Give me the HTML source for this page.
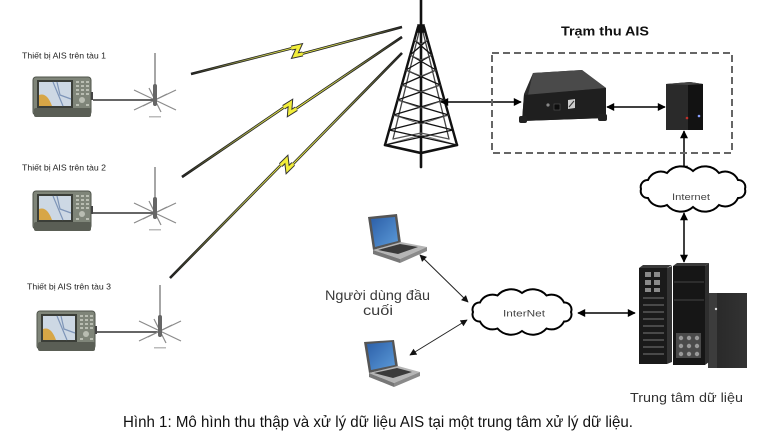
<!DOCTYPE html>
<html><head><meta charset="utf-8">
<style>html,body{margin:0;padding:0;background:#fff;}svg{display:block}</style>
</head><body>
<svg width="759" height="433" viewBox="0 0 759 433" xmlns="http://www.w3.org/2000/svg" font-family="Liberation Sans, 'DejaVu Sans', sans-serif">
<defs>
<marker id="ah" viewBox="0 0 10 10" refX="9" refY="5" markerWidth="9" markerHeight="8" markerUnits="userSpaceOnUse" orient="auto-start-reverse"><path d="M0,0 L10,5 L0,10 z" fill="#000"/></marker>
<marker id="ah2" viewBox="0 0 10 10" refX="9" refY="5" markerWidth="9" markerHeight="7" markerUnits="userSpaceOnUse" orient="auto-start-reverse"><path d="M0,0 L10,5 L0,10 z" fill="#111"/></marker>
<linearGradient id="g1" gradientUnits="userSpaceOnUse" x1="191" y1="74" x2="402" y2="27"><stop offset="0" stop-color="#222"/><stop offset="0.35" stop-color="#b8bc50"/><stop offset="0.5" stop-color="#e8e840"/><stop offset="0.7" stop-color="#b8bc50"/><stop offset="1" stop-color="#222"/></linearGradient>
<linearGradient id="g2" gradientUnits="userSpaceOnUse" x1="182" y1="177" x2="402" y2="37"><stop offset="0" stop-color="#222"/><stop offset="0.35" stop-color="#b8bc50"/><stop offset="0.5" stop-color="#e8e840"/><stop offset="0.7" stop-color="#b8bc50"/><stop offset="1" stop-color="#222"/></linearGradient>
<linearGradient id="g3" gradientUnits="userSpaceOnUse" x1="170" y1="278" x2="402" y2="53"><stop offset="0" stop-color="#222"/><stop offset="0.35" stop-color="#b8bc50"/><stop offset="0.5" stop-color="#e8e840"/><stop offset="0.7" stop-color="#b8bc50"/><stop offset="1" stop-color="#222"/></linearGradient>
<linearGradient id="rk3" x1="0" y1="0" x2="1" y2="0"><stop offset="0" stop-color="#3a3a3a"/><stop offset="0.25" stop-color="#2a2a2a"/><stop offset="1" stop-color="#333"/></linearGradient>
<linearGradient id="scr" x1="0" y1="0" x2="1" y2="1"><stop offset="0" stop-color="#2c5fa8"/><stop offset="1" stop-color="#5b9ad8"/></linearGradient>
<g id="dev">
 <rect x="0" y="2" width="58" height="38" rx="3" fill="#7f8579" stroke="#4f544b"/>
 <rect x="1" y="33" width="57" height="9" rx="2" fill="#5a5e55"/>
 <rect x="4" y="5" width="36" height="28" fill="#3b3e38"/>
 <rect x="6" y="7" width="32" height="24" fill="#cdd8e4"/>
 <path d="M6,20 Q14,17 19,31 L6,31 Z" fill="#d7a646"/>
 <path d="M20,7 L30,31 M24,7 L27,20 L38,24" stroke="#7e95b8" stroke-width="1.2" fill="none"/>
 <g fill="#b9bdb2">
  <rect x="43" y="6" width="3" height="2"/><rect x="48" y="6" width="3" height="2"/><rect x="53" y="6" width="3" height="2"/>
  <rect x="43" y="10" width="3" height="2"/><rect x="48" y="10" width="3" height="2"/><rect x="53" y="10" width="3" height="2"/>
  <rect x="43" y="14" width="3" height="2"/><rect x="48" y="14" width="3" height="2"/><rect x="53" y="14" width="3" height="2"/>
  <rect x="43" y="18" width="3" height="2"/><rect x="48" y="18" width="3" height="2"/><rect x="53" y="18" width="3" height="2"/>
  <circle cx="49" cy="25" r="3"/>
  <rect x="43" y="29" width="3" height="2"/><rect x="53" y="29" width="3" height="2"/>
 </g>
 <rect x="58" y="17" width="2" height="8" fill="#444"/>
</g>
<g id="ant" stroke="#8a8a8a" stroke-width="1.2" fill="none">
 <line x1="-21" y1="-10" x2="21" y2="10"/>
 <line x1="-21" y1="10" x2="21" y2="-10"/>
 <line x1="-6" y1="-12" x2="6" y2="12"/>
 <line x1="-12" y1="6" x2="12" y2="-6"/>
</g>
</defs>

<!-- ship devices -->
<text x="22" y="58.5" font-size="8.5" fill="#222" textLength="84" lengthAdjust="spacingAndGlyphs">Thiết bị AIS trên tàu 1</text>
<text x="22" y="170.5" font-size="8.5" fill="#222" textLength="84" lengthAdjust="spacingAndGlyphs">Thiết bị AIS trên tàu 2</text>
<text x="27" y="289.5" font-size="8.5" fill="#222" textLength="84" lengthAdjust="spacingAndGlyphs">Thiết bị AIS trên tàu 3</text>

<use href="#dev" x="33" y="75"/>
<use href="#dev" x="33" y="189"/>
<use href="#dev" x="37" y="309"/>

<g stroke="#333" stroke-width="1.4">
 <line x1="93" y1="100" x2="155" y2="100"/>
 <line x1="93" y1="213" x2="155" y2="213"/>
 <line x1="97" y1="332" x2="160" y2="332"/>
</g>

<!-- antennas -->
<use href="#ant" x="155" y="100"/>
<use href="#ant" x="155" y="213"/>
<use href="#ant" x="160" y="331"/>
<g stroke="#777" stroke-width="1.3">
 <line x1="155" y1="53" x2="155" y2="106"/>
 <line x1="155" y1="167" x2="155" y2="219"/>
 <line x1="160" y1="285" x2="160" y2="337"/>
</g>
<g fill="#666">
 <rect x="153" y="84" width="4" height="22" rx="2"/>
 <rect x="153" y="197" width="4" height="22" rx="2"/>
 <rect x="158" y="315" width="4" height="22" rx="2"/>
</g>
<g fill="#bbb">
 <rect x="149" y="116" width="12" height="1.5"/>
 <rect x="149" y="229" width="12" height="1.5"/>
 <rect x="154" y="347" width="12" height="1.5"/>
</g>

<!-- lightning lines -->
<g fill="none" stroke-linejoin="miter" stroke-miterlimit="4">
 <polyline points="191,74 299.1,46.4 294.9,55.6 402,27" stroke="#1e1e1e" stroke-width="2.6"/>
 <polyline points="191,74 299.1,46.4 294.9,55.6 402,27" stroke="url(#g1)" stroke-width="1.1"/>
 <polyline points="291.3,48.1 299.1,46.4 294.9,55.6 302.7,53.9" stroke="#333" stroke-width="5"/>
 <polyline points="291.3,48.1 299.1,46.4 294.9,55.6 302.7,53.9" stroke="#f2ee3a" stroke-width="3"/>

 <polyline points="182,177 290.4,103 289.6,113 402,37" stroke="#1e1e1e" stroke-width="2.6"/>
 <polyline points="182,177 290.4,103 289.6,113 402,37" stroke="url(#g2)" stroke-width="1.1"/>
 <polyline points="283.6,107.3 290.4,103 289.6,113 296.4,108.7" stroke="#333" stroke-width="5"/>
 <polyline points="283.6,107.3 290.4,103 289.6,113 296.4,108.7" stroke="#f2ee3a" stroke-width="3"/>

 <polyline points="170,278 286.4,159.5 287.6,169.5 402,53" stroke="#1e1e1e" stroke-width="2.6"/>
 <polyline points="170,278 286.4,159.5 287.6,169.5 402,53" stroke="url(#g3)" stroke-width="1.1"/>
 <polyline points="280.7,165.1 286.4,159.5 287.6,169.5 293.3,163.9" stroke="#333" stroke-width="5"/>
 <polyline points="280.7,165.1 286.4,159.5 287.6,169.5 293.3,163.9" stroke="#f2ee3a" stroke-width="3"/>
</g>

<!-- tower -->
<g stroke="#111" fill="none" stroke-linecap="round">
 <line x1="421" y1="0" x2="421" y2="167" stroke-width="2.6"/>
 <path d="M418,27 L385,145 M424,27 L457,145" stroke-width="2.4"/>
 <path d="M419,32 L393,139 M423,32 L449,139" stroke-width="1.3" stroke="#444"/>
 <path d="M418,25 L424,25 L424,32 L418,32 Z" stroke-width="1.5" fill="#111"/>
 <path d="M385,145 L421,153 L457,145" stroke-width="2.6"/>
 <path d="M393,139 L421,133 L449,139" stroke-width="1.3" stroke="#555"/>
 <path d="M385,145 L421,135 M457,145 L421,135" stroke-width="1" stroke="#777"/>
 <g stroke-width="1.3">
  <path d="M414.4,40 L431.8,55 M427.6,40 L410.2,55"/>
  <path d="M410.2,55 L436,70 M431.8,55 L406,70"/>
  <path d="M406,70 L440.2,85 M436,70 L401.8,85"/>
  <path d="M401.8,85 L444.4,100 M440.2,85 L397.6,100"/>
  <path d="M397.6,100 L448.6,115 M444.4,100 L393.4,115"/>
  <path d="M393.4,115 L452.8,130 M448.6,115 L389.2,130"/>
  <path d="M389.2,130 L457,145 M452.8,130 L385,145"/>
 </g>
 <g stroke-width="0.9" stroke="#555">
  <path d="M414.4,40 L421,44 L427.6,40"/>
  <path d="M410.2,55 L421,60 L431.8,55"/>
  <path d="M406,70 L421,76 L436,70"/>
  <path d="M401.8,85 L421,92 L440.2,85"/>
  <path d="M397.6,100 L421,108 L444.4,100"/>
  <path d="M393.4,115 L421,124 L448.6,115"/>
 </g>
</g>

<!-- arrows top -->
<g stroke="#000" stroke-width="1.5" fill="none">
 <line x1="441" y1="102" x2="521" y2="102" marker-start="url(#ah)" marker-end="url(#ah)"/>
 <line x1="607" y1="107" x2="665" y2="107" marker-start="url(#ah)" marker-end="url(#ah)"/>
 <line x1="684" y1="131" x2="684" y2="173" marker-start="url(#ah)" marker-end="url(#ah)"/>
 <line x1="684" y1="213" x2="684" y2="262" marker-start="url(#ah)" marker-end="url(#ah)"/>
 <line x1="578" y1="313" x2="635" y2="313" marker-start="url(#ah)" marker-end="url(#ah)"/>
</g>
<g stroke="#222" stroke-width="1" fill="none">
 <line x1="420" y1="255" x2="468" y2="302" marker-start="url(#ah2)" marker-end="url(#ah2)"/>
 <line x1="410" y1="355" x2="467" y2="320" marker-start="url(#ah2)" marker-end="url(#ah2)"/>
</g>

<!-- Trạm thu AIS box -->
<text x="561" y="35.5" font-size="12.5" font-weight="bold" fill="#111" textLength="88" lengthAdjust="spacingAndGlyphs">Trạm thu AIS</text>
<rect x="492" y="53" width="240" height="100" fill="none" stroke="#666" stroke-width="2" stroke-dasharray="7,4"/>

<!-- receiver -->
<g>
 <path d="M524,94 L533,73 L582,70 L606,88 L606,118 L522,121 Z" fill="#2c2c2c"/>
 <path d="M533,73 L582,70 L606,88 L528,95 Z" fill="#4a4a4a"/>
 <path d="M524,95 L606,88 L606,118 L522,121 Z" fill="#1f1f1f"/>
 <rect x="519" y="116" width="8" height="7" rx="2" fill="#222"/>
 <rect x="598" y="114" width="9" height="7" rx="2" fill="#222"/>
 <circle cx="548" cy="105" r="1.6" fill="#888"/>
 <rect x="554" y="104" width="6" height="6" fill="#0d0d0d" stroke="#555" stroke-width="0.6"/>
 <path d="M568,100 L575,99 L575,108 L568,109 Z" fill="#ccc"/>
 <path d="M569,107 L574,101" stroke="#333" stroke-width="1"/>
</g>

<!-- PC -->
<g>
 <path d="M666,84 L690,82 L703,84 L703,130 L666,130 Z" fill="#1c1c1c"/>
 <rect x="666" y="84" width="22" height="46" fill="#2a2a2a"/>
 <rect x="688" y="84" width="15" height="46" fill="#121212"/>
 <path d="M666,84 L690,82 L703,84 L688,85 Z" fill="#444"/>
 <circle cx="687" cy="118" r="1.3" fill="#c0302a"/>
 <circle cx="699" cy="116" r="1.3" fill="#8aa0ff"/>
</g>

<!-- Internet cloud -->
<path d="M745,189 A7,7 0 0 1 738,198 A14,14 0 0 1 719,205 A18,18 0 0 1 693,207 A18,18 0 0 1 667,205 A14,14 0 0 1 648,198 A7,7 0 0 1 641,189 A7,7 0 0 1 648,180 A14,14 0 0 1 667,173 A18,18 0 0 1 693,171 A18,18 0 0 1 719,173 A14,14 0 0 1 738,180 A7,7 0 0 1 745,189 Z" fill="#fff" stroke="#000" stroke-width="2"/>
<text x="672" y="200" font-size="9.5" fill="#444" textLength="38" lengthAdjust="spacingAndGlyphs">Internet</text>

<!-- InterNet cloud -->
<path d="M571,312 A7,7 0 0 1 564,321.5 A14,14 0 0 1 546.5,328.5 A18,18 0 0 1 522,331 A18,18 0 0 1 497.5,328.5 A14,14 0 0 1 480,321.5 A7,7 0 0 1 473,312 A7,7 0 0 1 480,302.5 A14,14 0 0 1 497.5,295.5 A18,18 0 0 1 522,293 A18,18 0 0 1 546.5,295.5 A14,14 0 0 1 564,302.5 A7,7 0 0 1 571,312 Z" fill="#fff" stroke="#000" stroke-width="2"/>
<text x="503" y="316.5" font-size="9.5" fill="#444" textLength="42" lengthAdjust="spacingAndGlyphs">InterNet</text>

<!-- laptops -->
<g>
 <path d="M368,217 L397,214 L401,243 L373,250 Z" fill="#555"/>
 <path d="M371,219 L395,217 L398,241 L375,247 Z" fill="url(#scr)"/>
 <path d="M373,250 L401,242 L427,247 L400,259 Z" fill="#b5b5b5"/>
 <path d="M378,250 L400,244 L418,247 L398,254 Z" fill="#3a3a3a"/>
 <path d="M373,250 L400,259 L400,263 L373,254 Z" fill="#777"/>
 <path d="M400,259 L427,247 L427,251 L400,263 Z" fill="#8a8a8a"/>
</g>
<g>
 <path d="M364,342 L394,340 L398,367 L369,373 Z" fill="#555"/>
 <path d="M367,344 L392,342 L395,365 L371,370 Z" fill="url(#scr)"/>
 <path d="M369,373 L398,366 L420,372 L394,383 Z" fill="#b5b5b5"/>
 <path d="M374,373 L397,368 L412,372 L393,378 Z" fill="#3a3a3a"/>
 <path d="M369,373 L394,383 L394,387 L369,377 Z" fill="#777"/>
 <path d="M394,383 L420,372 L420,376 L394,387 Z" fill="#8a8a8a"/>
</g>
<text x="325" y="300" font-size="14" fill="#3a3a3a" textLength="105" lengthAdjust="spacingAndGlyphs">Người dùng đầu</text>
<text x="363" y="315" font-size="14" fill="#3a3a3a" textLength="30" lengthAdjust="spacingAndGlyphs">cuối</text>

<!-- datacenter -->
<g>
 <rect x="708" y="293" width="39" height="75" fill="url(#rk3)"/>
 <rect x="708" y="293" width="9" height="75" fill="#3c3c3c"/>
 <circle cx="716" cy="309" r="1.2" fill="#ddd"/>
 <path d="M673,266 L705,266 L705,365 L673,365 Z" fill="#161616"/>
 <path d="M705,266 L709,263 L709,362 L705,365 Z" fill="#2e2e2e"/>
 <path d="M673,266 L677,263 L709,263 L705,266 Z" fill="#3a3a3a"/>
 <line x1="674" y1="282" x2="704" y2="282" stroke="#444"/>
 <line x1="674" y1="300" x2="704" y2="300" stroke="#444"/>
 <rect x="676" y="333" width="25" height="25" fill="#4a4a4a"/>
 <g fill="#999">
  <circle cx="681" cy="338" r="2.2"/><circle cx="689" cy="338" r="2.2"/><circle cx="697" cy="338" r="2.2"/>
  <circle cx="681" cy="346" r="2.2"/><circle cx="689" cy="346" r="2.2"/><circle cx="697" cy="346" r="2.2"/>
  <circle cx="681" cy="354" r="2.2"/><circle cx="689" cy="354" r="2.2"/><circle cx="697" cy="354" r="2.2"/>
 </g>
 <path d="M639,268 L667,268 L667,364 L639,364 Z" fill="#1a1a1a"/>
 <path d="M667,268 L672,266 L672,362 L667,364 Z" fill="#333"/>
 <path d="M639,268 L643,265 L672,265 L667,268 Z" fill="#3a3a3a"/>
 <g fill="#8a8a8a">
  <rect x="645" y="272" width="6" height="5"/><rect x="654" y="272" width="6" height="5"/>
  <rect x="645" y="280" width="6" height="5"/><rect x="654" y="280" width="6" height="5"/>
  <rect x="645" y="288" width="6" height="4"/><rect x="654" y="288" width="6" height="4"/>
 </g>
 <g stroke="#666" stroke-width="1.2">
  <line x1="643" y1="298" x2="664" y2="298"/><line x1="643" y1="305" x2="664" y2="305"/>
  <line x1="643" y1="312" x2="664" y2="312"/><line x1="643" y1="319" x2="664" y2="319"/>
  <line x1="643" y1="326" x2="664" y2="326"/><line x1="643" y1="333" x2="664" y2="333"/>
  <line x1="643" y1="340" x2="664" y2="340"/><line x1="643" y1="347" x2="664" y2="347"/>
  <line x1="643" y1="354" x2="664" y2="354"/>
 </g>
</g>
<text x="630" y="402" font-size="13" fill="#333" textLength="113" lengthAdjust="spacingAndGlyphs">Trung tâm dữ liệu</text>

<!-- caption -->
<text x="123" y="427" font-size="16" fill="#111" textLength="510" lengthAdjust="spacingAndGlyphs">Hình 1: Mô hình thu thập và xử lý dữ liệu AIS tại một trung tâm xử lý dữ liệu.</text>
</svg>
</body></html>
